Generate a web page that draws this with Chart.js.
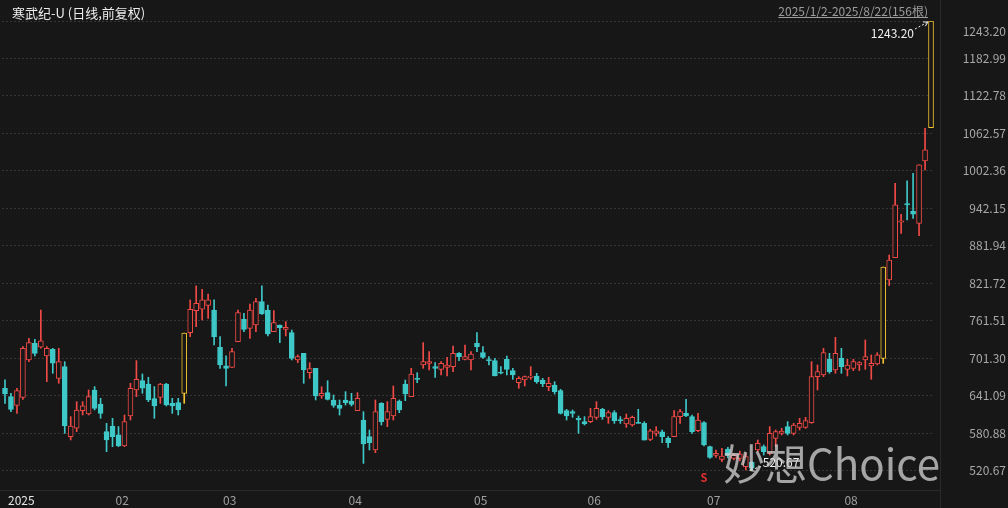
<!DOCTYPE html>
<html>
<head>
<meta charset="utf-8">
<script src="https://cdn.jsdelivr.net/npm/chart.js@4.4.0/dist/chart.umd.min.js"></script>
<style>
  html, body { margin: 0; padding: 0; background: #171717; overflow: hidden; }
  #wrap { position: relative; width: 1008px; height: 508px; }
</style>
</head>
<body>
<div id="wrap"><canvas id="kline"></canvas></div>
<script>
// daily candles, 2025/1/2 - 2025/8/22 (156 trading days)
var openPrices = [
  652.8, 639.4, 625.4, 638.3, 698.3, 725.1, 718.7, 704.8, 715.5, 668.8,
  687.6, 575.1, 588.5, 616.9, 611.5, 650.1, 627.6, 583.1, 592.2, 577.8,
  560.1, 608.3, 650.1, 665.1, 659.7, 636.2, 638.3, 659.7, 628.6, 629.7,
  644.7, 742.2, 777.6, 779.8, 786.2, 778.7, 718.7, 688.7, 686.5, 727.8,
  763.7, 749.2, 754.6, 792.1, 778.7, 743.9, 754.6, 747.6, 742.2, 698.3,
  709.0, 677.9, 684.9, 640.4, 645.8, 634.0, 625.9, 634.0, 632.3, 616.8,
  601.8, 575.0, 553.6, 628.6, 602.9, 608.2, 632.4, 659.7, 639.3, 668.8,
  690.2, 692.9, 687.6, 683.3, 686.5, 687.6, 709.0, 699.4, 698.3, 725.1,
  710.1, 698.3, 697.2, 677.9, 699.4, 681.1, 661.8, 666.1, 670.4, 672.6,
  666.1, 655.4, 658.1, 649.0, 616.8, 615.2, 604.5, 599.1, 599.1, 606.1,
  619.0, 606.1, 613.6, 601.8, 595.4, 593.8, 597.5, 596.4, 570.7, 580.4,
  583.0, 572.3, 575.0, 607.2, 612.5, 607.2, 584.6, 597.5, 558.9, 545.0,
  538.6, 555.0, 540.0, 540.0, 526.8, 533.8, 553.6, 559.0, 548.3, 572.4,
  580.4, 591.2, 580.4, 590.0, 590.0, 597.6, 671.5, 674.2, 699.4, 682.2,
  701.0, 683.3, 684.9, 690.3, 698.3, 688.7, 691.9, 700.9, 826.9, 862.8,
  919.8, 949.6, 937.8, 918.0, 1018.2, 1071.8
];
var highPrices = [
  666.2, 644.7, 652.8, 719.8, 733.2, 731.5, 778.7, 719.8, 717.1, 717.1,
  695.6, 607.2, 631.3, 631.3, 650.1, 655.5, 636.7, 596.5, 604.5, 591.2,
  609.9, 660.8, 697.3, 675.8, 670.5, 655.5, 660.8, 660.8, 636.7, 636.7,
  741.5, 794.8, 817.3, 811.9, 804.4, 794.8, 735.8, 704.8, 717.1, 778.7,
  773.4, 788.3, 797.5, 817.3, 786.7, 777.6, 754.6, 759.9, 746.5, 706.4,
  709.0, 694.0, 684.9, 655.4, 665.0, 642.0, 634.0, 647.4, 644.7, 645.8,
  615.2, 585.7, 634.0, 629.7, 631.3, 656.5, 634.0, 666.1, 684.9, 677.9,
  726.2, 711.7, 694.0, 695.6, 702.6, 720.8, 710.1, 722.4, 711.7, 742.2,
  719.7, 703.6, 701.0, 687.6, 704.7, 684.9, 671.5, 672.6, 687.6, 676.9,
  668.8, 670.4, 663.4, 651.1, 619.0, 617.9, 608.2, 607.2, 620.6, 631.3,
  620.6, 616.8, 616.8, 607.2, 611.5, 608.2, 619.0, 599.1, 586.8, 591.1,
  585.7, 575.0, 616.8, 619.0, 635.0, 609.8, 612.5, 599.1, 560.0, 553.6,
  556.2, 558.0, 548.3, 552.0, 548.3, 534.9, 569.7, 561.7, 591.2, 585.8,
  588.5, 599.2, 596.5, 604.5, 606.1, 695.6, 690.3, 717.1, 709.0, 734.8,
  717.1, 699.4, 699.4, 695.6, 730.5, 706.4, 710.1, 847.7, 867.1, 982.3,
  932.5, 986.1, 998.4, 1011.8, 1070.8, 1243.2
];
var lowPrices = [
  628.6, 615.3, 612.6, 635.1, 695.6, 704.8, 717.1, 663.5, 676.9, 660.8,
  580.4, 569.7, 583.1, 609.9, 609.9, 617.9, 604.5, 550.9, 559.0, 559.0,
  559.0, 601.9, 639.4, 644.7, 631.3, 604.5, 628.6, 624.3, 612.5, 609.9,
  628.6, 735.8, 751.9, 762.6, 765.3, 722.4, 684.9, 656.5, 686.5, 727.8,
  743.9, 733.1, 743.9, 771.5, 736.9, 743.9, 726.2, 736.9, 698.3, 694.0,
  660.8, 668.8, 634.0, 636.7, 634.0, 622.2, 609.8, 625.9, 624.3, 616.8,
  532.1, 553.6, 549.3, 593.8, 591.1, 601.8, 613.6, 632.9, 639.3, 661.8,
  684.9, 682.2, 670.4, 674.2, 672.6, 679.5, 697.2, 698.3, 682.2, 711.7,
  700.9, 690.2, 672.6, 675.8, 674.2, 667.2, 652.7, 656.5, 667.2, 660.8,
  655.4, 649.0, 643.6, 611.5, 601.8, 606.1, 580.4, 593.8, 597.5, 602.9,
  602.9, 596.4, 596.4, 596.4, 590.0, 591.8, 596.4, 569.6, 568.6, 576.1,
  565.4, 557.8, 575.0, 596.4, 607.2, 580.4, 583.0, 560.0, 540.2, 541.8,
  534.8, 541.0, 537.6, 536.0, 521.5, 520.67, 551.0, 545.6, 545.6, 559.0,
  577.8, 577.8, 577.8, 585.7, 588.4, 596.5, 650.1, 671.5, 676.9, 676.9,
  676.9, 672.6, 681.2, 681.2, 683.3, 667.2, 690.3, 692.9, 817.8, 862.8,
  901.9, 923.4, 926.0, 898.2, 1003.8, 1071.8
];
var closePrices = [
  643.7, 619.0, 649.0, 717.1, 726.2, 709.0, 728.9, 717.1, 693.0, 695.6,
  592.2, 592.2, 617.9, 624.4, 639.4, 620.6, 612.6, 569.7, 575.1, 560.1,
  599.2, 652.8, 667.2, 652.8, 634.0, 624.4, 659.7, 625.9, 624.3, 617.9,
  741.5, 779.8, 789.4, 794.8, 794.8, 735.8, 690.3, 684.9, 711.7, 774.4,
  747.6, 778.7, 792.1, 772.3, 740.1, 758.3, 750.3, 750.8, 701.0, 703.7,
  682.2, 684.4, 640.4, 644.7, 635.0, 625.4, 620.6, 629.7, 627.0, 636.6,
  563.2, 565.4, 615.2, 599.1, 615.2, 636.6, 617.9, 643.6, 675.8, 667.2,
  695.6, 695.6, 684.9, 692.9, 690.2, 709.0, 703.7, 703.7, 707.9, 719.7,
  702.6, 697.2, 672.6, 676.9, 683.3, 674.2, 668.8, 671.5, 672.6, 663.4,
  659.7, 660.8, 647.4, 612.5, 608.2, 612.5, 601.8, 595.4, 607.2, 620.6,
  607.2, 613.6, 600.7, 600.7, 604.5, 606.1, 596.4, 569.6, 584.6, 584.6,
  575.0, 565.4, 607.2, 615.2, 608.2, 583.0, 601.8, 561.6, 541.8, 548.2,
  543.9, 546.0, 545.0, 547.0, 542.9, 524.2, 564.4, 551.0, 580.4, 583.1,
  584.2, 580.4, 593.8, 596.4, 600.8, 671.5, 679.6, 710.1, 679.6, 709.0,
  687.6, 690.3, 695.6, 694.0, 703.7, 693.0, 706.4, 847.7, 859.0, 947.5,
  922.0, 947.5, 932.5, 1011.8, 1036.0, 1243.2
];

// month start positions (trading day index) and their labels
var monthTicks = [0, 18, 36, 57, 78, 97, 117, 140];
var monthLabels = ['2025', '02', '03', '04', '05', '06', '07', '08'];

// price axis
var priceTicks = [520.67, 580.88, 641.09, 701.30, 761.51, 821.72, 881.94, 942.15, 1002.36, 1062.57, 1122.78, 1182.99, 1243.20];
var priceTickLabels = ['520.67', '580.88', '641.09', '701.30', '761.51', '821.72', '881.94', '942.15', '1002.36', '1062.57', '1122.78', '1182.99', '1243.20'];

var titleText = '寒武纪-U (日线,前复权)';
var rangeText = '2025/1/2-2025/8/22(156根)';
var watermarkText = '妙想Choice';
var eventMarkIndex = 117;

var BG = '#171717';
var RED = '#f04a46';
var CYAN = '#3fc8c8';
var YELLOW = '#f2c230';
var FONT = '"Noto Sans CJK SC", "Microsoft YaHei", sans-serif';

function buildCandles() {
  var labels = [], wicks = [], bodies = [], edge = [], fill = [];
  for (var i = 0; i < closePrices.length; i++) {
    var o = openPrices[i], c = closePrices[i];
    labels.push(String(i));
    wicks.push([lowPrices[i], highPrices[i]]);
    bodies.push([Math.min(o, c), Math.max(o, c)]);
    // limit-up days (+20%) are drawn in yellow
    var limitUp = i > 0 && c >= closePrices[i - 1] * 1.195;
    var col = limitUp ? YELLOW : (c >= o ? RED : CYAN);
    edge.push(col);
    fill.push(c >= o ? BG : CYAN);
  }
  return { labels: labels, wicks: wicks, bodies: bodies, edge: edge, fill: fill };
}

function arrow(ctx, x1, y1, x2, y2) {
  ctx.save();
  ctx.strokeStyle = '#f0f0f0';
  ctx.lineWidth = 1;
  ctx.setLineDash([2, 2]);
  ctx.beginPath();
  ctx.moveTo(x1, y1);
  ctx.lineTo(x2, y2);
  ctx.stroke();
  ctx.setLineDash([]);
  var a = Math.atan2(y2 - y1, x2 - x1);
  ctx.beginPath();
  ctx.moveTo(x2 - 5 * Math.cos(a - 0.5), y2 - 5 * Math.sin(a - 0.5));
  ctx.lineTo(x2, y2);
  ctx.lineTo(x2 - 5 * Math.cos(a + 0.5), y2 - 5 * Math.sin(a + 0.5));
  ctx.stroke();
  ctx.restore();
}

// texts, separators, extreme labels and watermark
var overlayPlugin = {
  id: 'overlay',
  afterDraw: function (chart) {
    var ctx = chart.ctx, xs = chart.scales.x, ys = chart.scales.y;
    ctx.save();

    ctx.strokeStyle = '#2a2a2a';
    ctx.lineWidth = 1;
    ctx.beginPath();
    ctx.moveTo(940.5, 0); ctx.lineTo(940.5, 508);
    ctx.moveTo(0, 490.5); ctx.lineTo(940, 490.5);
    ctx.stroke();

    // price labels
    ctx.font = '12px ' + FONT;
    ctx.fillStyle = '#a8a8a8';
    ctx.textAlign = 'right';
    ctx.textBaseline = 'middle';
    priceTicks.forEach(function (v, k) {
      var y = Math.max(ys.getPixelForValue(v), 31);
      ctx.fillText(priceTickLabels[k], 1006, y);
    });

    // month labels
    ctx.textAlign = 'left';
    monthTicks.forEach(function (idx, k) {
      ctx.fillStyle = k === 0 ? '#e6e6e6' : '#a0a0a0';
      ctx.fillText(monthLabels[k], xs.getPixelForValue(idx) + 3, 500);
    });

    // title
    ctx.font = '13px ' + FONT;
    ctx.fillStyle = '#ececec';
    ctx.fillText(titleText, 12, 13);

    // date range (underlined)
    ctx.font = '12px ' + FONT;
    ctx.fillStyle = '#9c9c9c';
    ctx.textAlign = 'right';
    ctx.fillText(rangeText, 928, 11);
    var w = ctx.measureText(rangeText).width;
    ctx.strokeStyle = '#9c9c9c';
    ctx.beginPath();
    ctx.moveTo(928 - w, 17.5); ctx.lineTo(928, 17.5);
    ctx.stroke();

    // highest / lowest price markers
    var hi = 0, lo = 0;
    for (var i = 1; i < highPrices.length; i++) {
      if (highPrices[i] > highPrices[hi]) hi = i;
      if (lowPrices[i] < lowPrices[lo]) lo = i;
    }
    var hx = xs.getPixelForValue(hi), hy = ys.getPixelForValue(highPrices[hi]);
    ctx.fillStyle = '#f2f2f2';
    ctx.textAlign = 'right';
    ctx.fillText(highPrices[hi].toFixed(2), hx - 17, hy + 12);
    arrow(ctx, hx - 16, hy + 8, hx - 3, hy + 1);

    var lx = xs.getPixelForValue(lo), ly = ys.getPixelForValue(lowPrices[lo]);
    ctx.textAlign = 'left';
    ctx.fillText(lowPrices[lo].toFixed(2), lx + 11, ly - 8);
    arrow(ctx, lx + 9, ly - 4, lx - 2, ly);

    // event mark
    ctx.font = 'bold 11px ' + FONT;
    ctx.fillStyle = '#e03030';
    ctx.textAlign = 'center';
    ctx.fillText('S', xs.getPixelForValue(eventMarkIndex), 478);

    // watermark
    ctx.font = '42px ' + FONT;
    ctx.fillStyle = 'rgba(205, 205, 205, 0.78)';
    ctx.textAlign = 'left';
    ctx.textBaseline = 'alphabetic';
    ctx.fillText(watermarkText, 723, 480);

    ctx.restore();
  }
};

function createKlineChart() {
  var canvas = document.getElementById('kline');
  canvas.width = 1008;
  canvas.height = 508;
  var ctx = canvas.getContext('2d');
  var k = buildCandles();

  new Chart(ctx, {
    type: 'bar',
    data: {
      labels: k.labels,
      datasets: [{
        label: 'body',
        data: k.bodies,
        backgroundColor: k.fill,
        borderColor: k.edge,
        borderWidth: 1,
        borderSkipped: false,
        barThickness: 5,
        minBarLength: 1,
        grouped: false,
        order: 0
      }, {
        label: 'wick',
        data: k.wicks,
        backgroundColor: k.edge,
        borderWidth: 0,
        barThickness: 1,
        grouped: false,
        order: 1
      }]
    },
    options: {
      responsive: false,
      animation: false,
      events: [],
      layout: { padding: { left: 2, right: 74, top: 21, bottom: 18 } },
      scales: {
        x: {
          type: 'category',
          display: false,
          offset: true,
          grid: { display: false }
        },
        y: {
          type: 'linear',
          position: 'right',
          min: 489.3,
          max: 1243.2,
          afterBuildTicks: function (scale) {
            scale.ticks = priceTicks.map(function (v) { return { value: v }; });
          },
          afterFit: function (scale) { scale.width = 0; },
          ticks: { display: false },
          grid: { color: '#363636', drawTicks: false, lineWidth: 1 },
          border: { display: false, dash: [2, 2] }
        }
      },
      plugins: {
        legend: { display: false },
        tooltip: { enabled: false }
      }
    },
    plugins: [overlayPlugin]
  });
}

document.addEventListener('DOMContentLoaded', function () {
  createKlineChart();
});
</script>
</body>
</html>
